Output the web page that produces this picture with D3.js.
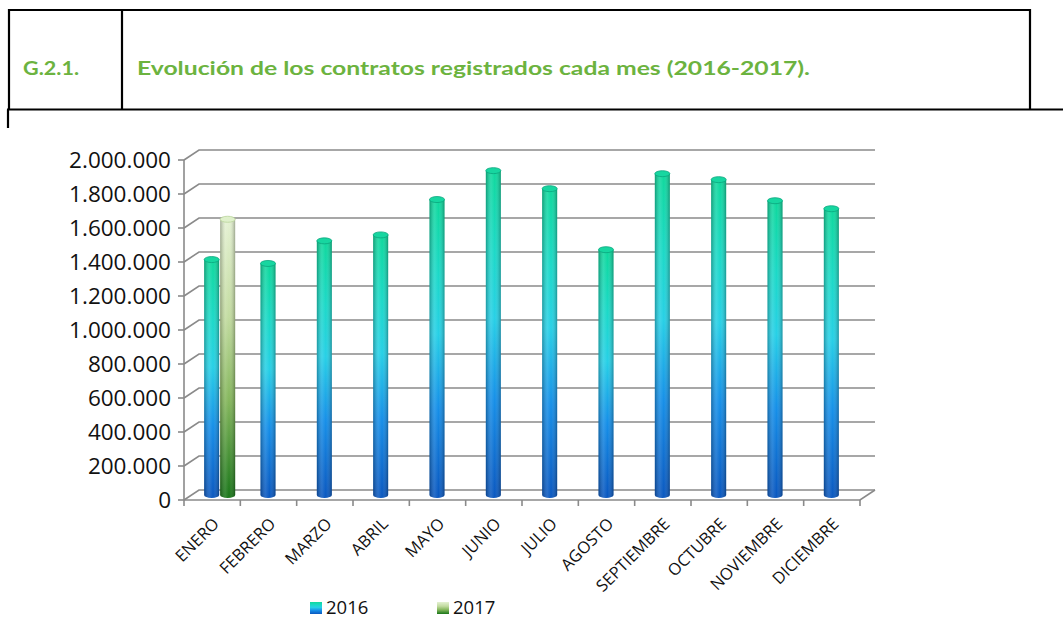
<!DOCTYPE html>
<html>
<head>
<meta charset="utf-8">
<script src="https://cdn.jsdelivr.net/npm/d3@7"></script>
<style>
  body { margin: 0; background: #fff; }
  svg { display: block; }
</style>
</head>
<body>
<div id="chart"></div>
<script>
// data
var months = ["ENERO", "FEBRERO", "MARZO", "ABRIL", "MAYO", "JUNIO", "JULIO",
  "AGOSTO", "SEPTIEMBRE", "OCTUBRE", "NOVIEMBRE", "DICIEMBRE"];
var series = ["2016", "2017"];
var values2016 = [1385000, 1362000, 1495000, 1530000, 1738000, 1908000, 1802000,
  1443000, 1890000, 1855000, 1731000, 1684000];
var values2017 = [1622000, null, null, null, null, null, null, null, null, null, null, null];
var yTicks = [0, 200000, 400000, 600000, 800000, 1000000, 1200000, 1400000,
  1600000, 1800000, 2000000];

var svgWidth = 1063;
var svgHeight = 618;

// 3d depth of the plot box
var depthX = 15, depthY = -10;

var svg = d3.select("#chart")
  .append("svg")
  .attr("width", svgWidth)
  .attr("height", svgHeight);

var defs = svg.append("defs");

function vGradient(id, stops) {
  var g = defs.append("linearGradient")
    .attr("id", id)
    .attr("x1", 0).attr("y1", 0).attr("x2", 0).attr("y2", 1);
  stops.forEach(function(s) {
    g.append("stop").attr("offset", s[0]).attr("stop-color", s[1]);
  });
}

vGradient("g2016", [["0%", "#0fd89c"], ["25%", "#1cd9c8"], ["45%", "#27d0e6"],
  ["70%", "#168fe8"], ["100%", "#0a57bf"]]);
vGradient("g2017", [["0%", "#e4f1d2"], ["35%", "#c2dba0"], ["65%", "#84b65c"],
  ["100%", "#187518"]]);

// horizontal shading to make the bars look round
var shade = defs.append("linearGradient")
  .attr("id", "shade")
  .attr("x1", 0).attr("y1", 0).attr("x2", 1).attr("y2", 0);
shade.append("stop").attr("offset", "0%").attr("stop-color", "#000").attr("stop-opacity", 0.28);
shade.append("stop").attr("offset", "35%").attr("stop-color", "#fff").attr("stop-opacity", 0.12);
shade.append("stop").attr("offset", "60%").attr("stop-color", "#fff").attr("stop-opacity", 0);
shade.append("stop").attr("offset", "100%").attr("stop-color", "#000").attr("stop-opacity", 0.3);

var topColor = { "2016": "#17d6a0", "2017": "#dff0cb" };
var topStroke = { "2016": "#0aa67e", "2017": "#b9d49a" };

// title box
var box = svg.append("g").attr("stroke", "#000").attr("stroke-width", 2.2).attr("fill", "none");
box.append("path").attr("d", "M9,109.5 V10 H1030 V109.5");
box.append("line").attr("x1", 122).attr("x2", 122).attr("y1", 10).attr("y2", 109.5);
box.append("line").attr("x1", 7).attr("x2", 1063).attr("y1", 109.5).attr("y2", 109.5);
box.append("line").attr("x1", 8).attr("x2", 8).attr("y1", 109.5).attr("y2", 128);

svg.append("text")
  .attr("x", 23).attr("y", 75)
  .attr("font-family", "Lato")
  .attr("font-weight", "bold")
  .attr("font-size", "19px")
  .attr("fill", "#6cb33f")
  .attr("textLength", 56)
  .attr("lengthAdjust", "spacingAndGlyphs")
  .text("G.2.1.");

svg.append("text")
  .attr("x", 137).attr("y", 75)
  .attr("font-family", "Lato")
  .attr("font-weight", "bold")
  .attr("font-size", "19px")
  .attr("fill", "#6cb33f")
  .attr("textLength", 673)
  .attr("lengthAdjust", "spacingAndGlyphs")
  .text("Evolución de los contratos registrados cada mes (2016-2017).");

// scales
var x0 = d3.scaleBand().domain(months).range([184, 860]);
var bw = x0.bandwidth();
var x1 = d3.scaleBand().domain(series).range([bw / 2 - 16, bw / 2 + 16]);
var y = d3.scaleLinear().domain([0, 2000000]).range([500, 160]);

// walls and gridlines
var grid = svg.append("g").attr("stroke", "#8a8a8a").attr("stroke-width", 1.6).attr("fill", "none");
yTicks.forEach(function(v) {
  grid.append("path")
    .attr("d", "M" + 184 + "," + y(v) + " L" + (184 + depthX) + "," + (y(v) + depthY) +
      " H" + (860 + depthX));
  grid.append("line")
    .attr("x1", 178).attr("x2", 184)
    .attr("y1", y(v)).attr("y2", y(v));
});
grid.append("line").attr("x1", 184).attr("x2", 184).attr("y1", y(2000000)).attr("y2", y(0));
grid.append("path")
  .attr("d", "M184," + y(0) + " H860 L" + (860 + depthX) + "," + (y(0) + depthY));
months.forEach(function(m) {
  grid.append("line").attr("x1", x0(m)).attr("x2", x0(m)).attr("y1", y(0)).attr("y2", y(0) + 6);
});
grid.append("line").attr("x1", 860).attr("x2", 860).attr("y1", y(0)).attr("y2", y(0) + 6);

// y axis labels
svg.append("g").selectAll("text")
  .data(yTicks)
  .enter()
  .append("text")
  .attr("x", 171)
  .attr("y", d => y(d))
  .attr("dy", "0.36em")
  .attr("text-anchor", "end")
  .attr("font-family", "Open Sans")
  .attr("font-size", "22.5px")
  .attr("fill", "#111")
  .text(d => d3.format(",")(d).replace(/,/g, "."));

// x axis labels
svg.append("g").selectAll("text")
  .data(months)
  .enter()
  .append("text")
  .attr("transform", d => "translate(" + (x0(d) + bw / 2 + 8) + ",525) rotate(-45)")
  .attr("text-anchor", "end")
  .attr("font-family", "Open Sans")
  .attr("font-size", "16.5px")
  .attr("fill", "#111")
  .text(d => d);

// bars as cylinders, sitting half way into the depth
var bars = [];
months.forEach(function(m, i) {
  if (values2016[i] != null) bars.push({ month: m, key: "2016", value: values2016[i] });
  if (values2017[i] != null) bars.push({ month: m, key: "2017", value: values2017[i] });
});

var ry = 3;
var barW = x1.bandwidth() - 1;
var barsGroup = svg.append("g")
  .attr("transform", "translate(" + depthX / 2 + "," + depthY / 2 + ")");

var cyl = barsGroup.selectAll("g.bar")
  .data(bars)
  .enter()
  .append("g")
  .attr("class", "bar");

function bodyPath(d) {
  var left = x0(d.month) + x1(d.key) + 0.5;
  var right = left + barW;
  var top = y(d.value);
  var base = y(0);
  return "M" + left + "," + top + " V" + base +
    " A" + barW / 2 + "," + ry + " 0 0 0 " + right + "," + base +
    " V" + top + " Z";
}

cyl.append("path")
  .attr("d", bodyPath)
  .attr("fill", d => "url(#g" + d.key + ")");
cyl.append("path")
  .attr("d", bodyPath)
  .attr("fill", "url(#shade)");
cyl.append("ellipse")
  .attr("cx", d => x0(d.month) + x1(d.key) + 0.5 + barW / 2)
  .attr("cy", d => y(d.value))
  .attr("rx", barW / 2)
  .attr("ry", ry)
  .attr("fill", d => topColor[d.key])
  .attr("stroke", d => topStroke[d.key])
  .attr("stroke-width", 0.8);

// legend
var legend = svg.append("g");
var legendX = [310, 437];
series.forEach(function(s, i) {
  legend.append("rect")
    .attr("x", legendX[i]).attr("y", 602)
    .attr("width", 12).attr("height", 12)
    .attr("fill", "url(#g" + s + ")");
  legend.append("text")
    .attr("x", legendX[i] + 16).attr("y", 614)
    .attr("font-family", "Open Sans")
    .attr("font-size", "18.5px")
    .attr("fill", "#111")
    .text(s);
});
</script>
</body>
</html>
